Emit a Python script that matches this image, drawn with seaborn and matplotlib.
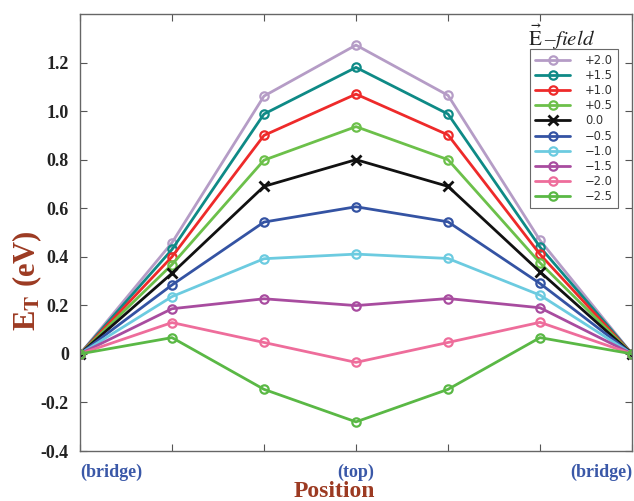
import numpy as np
import pandas as pd
import matplotlib
matplotlib.use("Agg")
import matplotlib.pyplot as plt
import seaborn as sns

positions = [0, 1, 2, 3, 4, 5, 6]
field_labels = ["+2.0", "+1.5", "+1.0", "+0.5", "0.0", "\u22120.5", "\u22121.0", "\u22121.5", "\u22122.0", "\u22122.5"]
e_p20 = [0, 0.458, 1.062, 1.272, 1.065, 0.468, 0]
e_p15 = [0, 0.430, 0.988, 1.180, 0.988, 0.440, 0]
e_p10 = [0, 0.400, 0.900, 1.070, 0.902, 0.410, 0]
e_p05 = [0, 0.368, 0.798, 0.936, 0.800, 0.375, 0]
e_000 = [0, 0.332, 0.690, 0.800, 0.690, 0.338, 0]
e_m05 = [0, 0.284, 0.543, 0.606, 0.544, 0.290, 0]
e_m10 = [0, 0.236, 0.392, 0.411, 0.393, 0.242, 0]
e_m15 = [0, 0.186, 0.227, 0.199, 0.228, 0.190, 0]
e_m20 = [0, 0.129, 0.047, -0.035, 0.047, 0.130, 0]
e_m25 = [0, 0.067, -0.146, -0.280, -0.146, 0.067, 0]
series = [e_p20, e_p15, e_p10, e_p05, e_000, e_m05, e_m10, e_m15, e_m20, e_m25]
colors = ["#b59cc6", "#0e8a86", "#ee2a2a", "#6cc04a", "#111111", "#3453a3",
          "#6ccbe0", "#a84c9f", "#ee6d9b", "#5ab845"]
xtick_labels = ["(bridge)", "", "", "(top)", "", "", "(bridge)"]
yticks = [-0.4, -0.2, 0, 0.2, 0.4, 0.6, 0.8, 1.0, 1.2]
ytick_labels = ["-0.4", "-0.2", "0", "0.2", "0.4", "0.6", "0.8", "1.0", "1.2"]

sns.set_theme(style="ticks")
plt.rcParams["mathtext.fontset"] = "stix"

fig = plt.figure(figsize=(6.34, 5.01), dpi=100)
ax = fig.add_axes([80/634, 1 - 451/501, (632-80)/634, (451-14)/501])

for lab, vals, col in zip(field_labels, series, colors):
    df = pd.DataFrame({"pos": positions, "E": vals})
    mk = "x" if lab == "0.0" else "o"
    kw = dict(markersize=7, markeredgewidth=2) if mk == "x" else dict(
        markersize=6, markeredgewidth=1.6, markerfacecolor="none")
    sns.lineplot(data=df, x="pos", y="E", ax=ax, color=col, marker=mk,
                 linewidth=2, label=lab, markeredgecolor=col, **kw)

ax.set_xlim(0, 6)
ax.set_ylim(-0.4, 1.4)
ax.set_xticks(positions)
ax.set_xticklabels(xtick_labels)
ax.set_yticks(yticks)
ax.set_yticklabels(ytick_labels)
ax.tick_params(axis="both", direction="in", top=True, right=True, length=5,
               color="#555555", width=0.8)
ax.tick_params(axis="y", pad=8)
ax.tick_params(axis="x", pad=9)
for t in ax.get_yticklabels():
    t.set_fontfamily("Liberation Serif")
    t.set_fontweight("bold")
    t.set_fontsize(13)
    t.set_color("#222222")
xt = ax.get_xticklabels()
for t in xt:
    t.set_fontfamily("Liberation Serif")
    t.set_fontweight("bold")
    t.set_fontsize(13)
    t.set_color("#3a58a8")
xt[0].set_horizontalalignment("left")
xt[-1].set_horizontalalignment("right")
for s in ax.spines.values():
    s.set_color("#666666")
    s.set_linewidth(1.0)

ax.set_xlabel("Position", fontfamily="Liberation Serif", fontweight="bold",
              fontsize=17, color="#9c3a22")
ax.xaxis.set_label_coords((334 - 80) / 552, -(481 - 451) / 437)
ax.set_ylabel(r"E$_\mathbf{T}$ (eV)", fontfamily="Liberation Serif", fontweight="bold",
              fontsize=22, color="#9c3a22")
ax.yaxis.set_label_coords((44 - 80) / 552, (451 - 281) / 437)

leg = ax.legend(loc="upper right", bbox_to_anchor=((618 - 80) / 552, (451 - 49) / 437),
                borderaxespad=0, frameon=True,
                fancybox=False, edgecolor="#444444", handlelength=3.0,
                labelspacing=0.18, borderpad=0.45, handletextpad=1.3,
                prop={"family": "DejaVu Sans", "size": 8.3})
leg.get_frame().set_linewidth(0.8)
for t in leg.get_texts():
    t.set_color("#333333")

fig.text(528/634, 1 - 37/501, r"$\vec{\mathrm{E}}\;$" + "\u2013" + r"$\mathit{field}$",
         fontsize=15, color="#222222", va="center", ha="left",
         fontfamily="Liberation Serif")

fig.savefig("out.png", dpi=100)
